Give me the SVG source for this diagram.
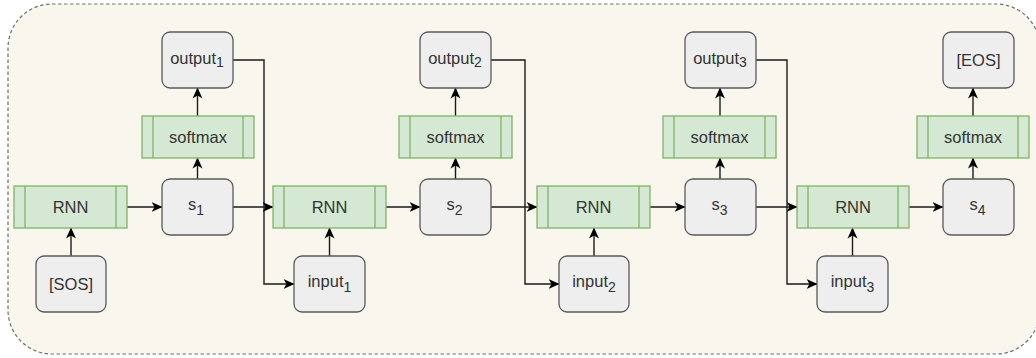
<svg xmlns="http://www.w3.org/2000/svg" width="1036" height="358" viewBox="0 0 1036 358">
  <style>
    .frame { fill: #f9f7ed; stroke: #707070; stroke-width: 1.2; stroke-dasharray: 3.5 2.5; }
    .box { fill: #eeeeee; stroke: #5a5a5a; stroke-width: 1.3; }
    .proc { fill: #d5e8d4; stroke: #82b366; stroke-width: 1.3; }
    .lbl { font-family: "Liberation Sans", Arial, sans-serif; font-size: 16.5px; fill: #333333; text-anchor: middle; }
    .sub { font-size: 14px; }
    .edge { fill: none; stroke: #1a1a1a; stroke-width: 1.4; marker-end: url(#arrow); }
  </style>
  <defs>
    <marker id="arrow" markerUnits="userSpaceOnUse" markerWidth="11" markerHeight="11" viewBox="0 0 11 11" refX="10.5" refY="5.5" orient="auto">
      <path d="M0,0.5 L11,5.5 L0,10.5 L3,5.5 Z" fill="#000000"/>
    </marker>
  </defs>

  <!-- container -->
  <rect class="frame" x="8" y="4" width="1032" height="350" rx="44" ry="44"/>

  <!-- connectors -->
  <g id="connectors">
    <path class="edge" d="M71,256 V228"/>
    <path class="edge" d="M127,207 H162"/>
    <path class="edge" d="M197.5,179 V158"/>
    <path class="edge" d="M197.5,116 V88"/>
    <path class="edge" d="M233,60 H264 V284 H294"/>
    <path class="edge" d="M233,207 H273"/>

    <path class="edge" d="M329.5,256 V228"/>
    <path class="edge" d="M386,207 H420"/>
    <path class="edge" d="M455.5,179 V158"/>
    <path class="edge" d="M455.5,116 V88"/>
    <path class="edge" d="M491,60 H525 V284 H559"/>
    <path class="edge" d="M491,207 H537"/>

    <path class="edge" d="M594,256 V228"/>
    <path class="edge" d="M650,207 H685"/>
    <path class="edge" d="M720,179 V158"/>
    <path class="edge" d="M720,116 V88"/>
    <path class="edge" d="M756,60 H787 V284 H817"/>
    <path class="edge" d="M756,207 H797"/>

    <path class="edge" d="M852.5,256 V228"/>
    <path class="edge" d="M909,207 H943"/>
    <path class="edge" d="M973,179 V158"/>
    <path class="edge" d="M973,116 V88"/>
  </g>

  <!-- step 1 -->
  <g id="sos">
    <rect class="box" x="36" y="256" width="70" height="56" rx="8"/>
    <text class="lbl" x="71" y="290">[SOS]</text>
  </g>
  <g id="rnn1">
    <rect class="proc" x="14" y="186" width="113" height="42"/>
    <path class="proc" d="M25,186 V228 M116,186 V228"/>
    <text class="lbl" x="70.5" y="213">RNN</text>
  </g>
  <g id="s1">
    <rect class="box" x="162" y="179" width="71" height="56" rx="8"/>
    <text class="lbl" x="196" y="210">s<tspan class="sub" dy="4.5">1</tspan></text>
  </g>
  <g id="softmax1">
    <rect class="proc" x="142" y="116" width="112" height="42"/>
    <path class="proc" d="M153,116 V158 M243,116 V158"/>
    <text class="lbl" x="198" y="142.5">softmax</text>
  </g>
  <g id="output1">
    <rect class="box" x="162" y="32" width="71" height="56" rx="8"/>
    <text class="lbl" x="197" y="63.5">output<tspan class="sub" dy="3.8">1</tspan></text>
  </g>

  <!-- step 2 -->
  <g id="rnn2">
    <rect class="proc" x="273" y="186" width="113" height="42"/>
    <path class="proc" d="M284,186 V228 M375,186 V228"/>
    <text class="lbl" x="329.5" y="213">RNN</text>
  </g>
  <g id="input1">
    <rect class="box" x="294" y="256" width="71" height="56" rx="8"/>
    <text class="lbl" x="329.5" y="287">input<tspan class="sub" dy="4.5">1</tspan></text>
  </g>
  <g id="s2">
    <rect class="box" x="420" y="179" width="71" height="56" rx="8"/>
    <text class="lbl" x="454.5" y="210">s<tspan class="sub" dy="4.5">2</tspan></text>
  </g>
  <g id="softmax2">
    <rect class="proc" x="399" y="116" width="113" height="42"/>
    <path class="proc" d="M410,116 V158 M501,116 V158"/>
    <text class="lbl" x="455.5" y="142.5">softmax</text>
  </g>
  <g id="output2">
    <rect class="box" x="420" y="32" width="71" height="56" rx="8"/>
    <text class="lbl" x="455" y="63.5">output<tspan class="sub" dy="3.8">2</tspan></text>
  </g>

  <!-- step 3 -->
  <g id="rnn3">
    <rect class="proc" x="537" y="186" width="113" height="42"/>
    <path class="proc" d="M548,186 V228 M639,186 V228"/>
    <text class="lbl" x="593.5" y="213">RNN</text>
  </g>
  <g id="input2">
    <rect class="box" x="559" y="256" width="70" height="56" rx="8"/>
    <text class="lbl" x="594" y="287">input<tspan class="sub" dy="4.5">2</tspan></text>
  </g>
  <g id="s3">
    <rect class="box" x="685" y="179" width="71" height="56" rx="8"/>
    <text class="lbl" x="719.5" y="210">s<tspan class="sub" dy="4.5">3</tspan></text>
  </g>
  <g id="softmax3">
    <rect class="proc" x="663" y="116" width="113" height="42"/>
    <path class="proc" d="M674,116 V158 M765,116 V158"/>
    <text class="lbl" x="719.5" y="142.5">softmax</text>
  </g>
  <g id="output3">
    <rect class="box" x="685" y="32" width="71" height="56" rx="8"/>
    <text class="lbl" x="720" y="63.5">output<tspan class="sub" dy="3.8">3</tspan></text>
  </g>

  <!-- step 4 -->
  <g id="rnn4">
    <rect class="proc" x="797" y="186" width="112" height="42"/>
    <path class="proc" d="M808,186 V228 M898,186 V228"/>
    <text class="lbl" x="853" y="213">RNN</text>
  </g>
  <g id="input3">
    <rect class="box" x="817" y="256" width="71" height="56" rx="8"/>
    <text class="lbl" x="852.5" y="287">input<tspan class="sub" dy="4.5">3</tspan></text>
  </g>
  <g id="s4">
    <rect class="box" x="943" y="179" width="71" height="56" rx="8"/>
    <text class="lbl" x="977.5" y="210">s<tspan class="sub" dy="4.5">4</tspan></text>
  </g>
  <g id="softmax4">
    <rect class="proc" x="917" y="116" width="112" height="42"/>
    <path class="proc" d="M928,116 V158 M1018,116 V158"/>
    <text class="lbl" x="973" y="142.5">softmax</text>
  </g>
  <g id="eos">
    <rect class="box" x="943" y="32" width="71" height="56" rx="8"/>
    <text class="lbl" x="978.5" y="66">[EOS]</text>
  </g>
</svg>
